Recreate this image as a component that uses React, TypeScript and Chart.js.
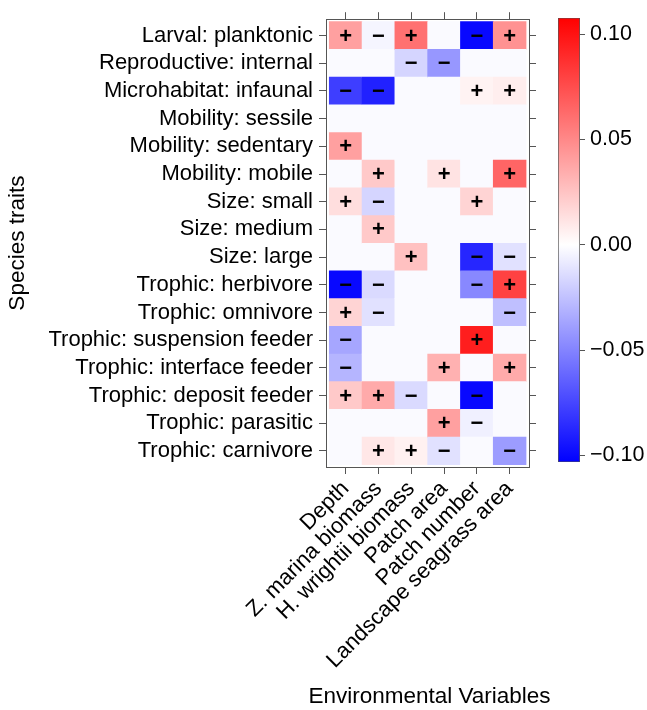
import React, { useEffect, useRef } from "react";
import { Chart, registerables } from "chart.js";

Chart.register(...registerables);

// ---------- data ----------
const environmentalVariables = [
  "Depth",
  "Z. marina biomass",
  "H. wrightii biomass",
  "Patch area",
  "Patch number",
  "Landscape seagrass area",
];

const speciesTraits = [
  "Larval: planktonic",
  "Reproductive: internal",
  "Microhabitat: infaunal",
  "Mobility: sessile",
  "Mobility: sedentary",
  "Mobility: mobile",
  "Size: small",
  "Size: medium",
  "Size: large",
  "Trophic: herbivore",
  "Trophic: omnivore",
  "Trophic: suspension feeder",
  "Trophic: interface feeder",
  "Trophic: deposit feeder",
  "Trophic: parasitic",
  "Trophic: carnivore",
];

// one value per species trait (top to bottom), 0 = not significant
const depth = [0.04, 0, -0.078, 0, 0.04, 0, 0.014, 0, 0, -0.1, 0.018, -0.036, -0.03, 0.023, 0, 0];
const zMarinaBiomass = [-0.004, 0, -0.09, 0, 0, 0.023, -0.017, 0.023, 0, -0.015, -0.012, 0, 0, 0.036, 0, 0.01];
const hWrightiiBiomass = [0.06, -0.017, 0, 0, 0, 0, 0, 0, 0.026, 0, 0, 0, 0, -0.015, 0, 0.006];
const patchArea = [0, -0.042, 0, 0, 0, 0.012, 0, 0, 0, 0, 0, 0, 0.033, 0, 0.04, -0.012];
const patchNumber = [-0.1, 0, 0.005, 0, 0, 0, 0.018, 0, -0.088, -0.048, 0, 0.095, 0, -0.1, -0.006, 0];
const landscapeSeagrassArea = [0.046, 0, 0.007, 0, 0, 0.065, 0, 0, -0.012, 0.08, -0.026, 0, 0.036, 0, 0, -0.04];

const colorbarMin = -0.1032;
const colorbarMax = 0.1077;
const colorbarTicks = [-0.1, -0.05, 0, 0.05, 0.1];

const xAxisTitle = "Environmental Variables";
const yAxisTitle = "Species traits";

// ---------- style ----------
const FONT = "'Liberation Sans', Arial, sans-serif";
const AXIS_COLOR = "#555";
const f = (size: number) => ({ family: FONT, size, weight: "normal" as const });

function cellColor(v: number): string {
  if (v === 0) return "rgb(250,250,255)";
  if (v > 0) {
    const t = Math.min(1, v / colorbarMax);
    const c = Math.round(255 * (1 - t));
    return `rgb(255,${c},${c})`;
  }
  const t = Math.min(1, -v / -colorbarMin);
  const c = Math.round(255 * (1 - t));
  return `rgb(${c},${c},255)`;
}

export default function App() {
  const heatRef = useRef<HTMLCanvasElement>(null);
  const barRef = useRef<HTMLCanvasElement>(null);

  useEffect(() => {
    Chart.defaults.font.family = FONT;
    Chart.defaults.color = "#000";

    const columns = [depth, zMarinaBiomass, hWrightiiBiomass, patchArea, patchNumber, landscapeSeagrassArea];
    const cells: { x: number; y: [number, number]; v: number }[] = [];
    columns.forEach((col, c) =>
      col.forEach((v, r) => cells.push({ x: c, y: [r - 0.5, r + 0.5], v }))
    );

    const colTicks = (s: any) => {
      s.ticks = environmentalVariables.map((_, i) => ({ value: i }));
    };
    const rowTicks = (s: any) => {
      s.ticks = speciesTraits.map((_, i) => ({ value: i }));
    };
    const tickGrid = { drawOnChartArea: false, drawTicks: true, tickLength: 7, color: AXIS_COLOR, offset: false };
    const border = { display: true, color: AXIS_COLOR, width: 1 };

    const signPlugin = {
      id: "signs",
      afterDatasetsDraw(chart: any) {
        const meta = chart.getDatasetMeta(0);
        const ctx = chart.ctx;
        ctx.save();
        ctx.fillStyle = "#000";
        ctx.textAlign = "center";
        ctx.textBaseline = "middle";
        meta.data.forEach((el: any, i: number) => {
          const v = cells[i].v;
          if (!v) return;
          const p = el.getProps(["x", "y", "base"], true);
          const cy = (p.y + p.base) / 2;
          ctx.font = `bold 22px ${FONT}`;
          ctx.fillText(v > 0 ? "+" : "\u2212", p.x, cy + 1);
        });
        ctx.restore();
      },
      afterDraw(chart: any) {
        // x-axis title drawn without Chart.js' maxWidth squeeze
        const ctx = chart.ctx;
        const area = chart.chartArea;
        ctx.save();
        ctx.fillStyle = "#000";
        ctx.font = `22.5px ${FONT}`;
        ctx.textAlign = "center";
        ctx.textBaseline = "middle";
        ctx.fillText(xAxisTitle, (area.left + area.right) / 2 + 2, 697);
        ctx.restore();
      },
    };

    const heat = new Chart(heatRef.current!, {
      type: "bar",
      data: {
        datasets: [
          {
            data: cells as any,
            xAxisID: "x",
            yAxisID: "y",
            backgroundColor: cells.map((c) => cellColor(c.v)),
            borderWidth: 0,
            barPercentage: 1,
            categoryPercentage: 1,
          } as any,
        ],
      },
      options: {
        animation: false,
        responsive: false,
        events: [],
        layout: { padding: 0 },
        plugins: { legend: { display: false }, tooltip: { enabled: false } },
        scales: {
          x: {
            type: "linear",
            position: "bottom",
            min: -0.6,
            max: 5.59,
            offset: false,
            afterBuildTicks: colTicks,
            afterFit: (s: any) => {
              s.height = 243;
            },
            ticks: {
              callback: (v: any) => environmentalVariables[v],
              minRotation: 45,
              maxRotation: 45,
              autoSkip: false,
              font: f(22),
              color: "#000",
              padding: 2,
            },
            grid: tickGrid,
            border,
          },
          x2: {
            type: "linear",
            position: "top",
            min: -0.6,
            max: 5.59,
            offset: false,
            afterBuildTicks: colTicks,
            afterFit: (s: any) => {
              s.height = 10;
            },
            ticks: { display: false },
            grid: tickGrid,
            border,
          },
          y: {
            type: "linear",
            position: "left",
            reverse: true,
            min: -0.59,
            max: 15.58,
            afterBuildTicks: rowTicks,
            afterFit: (s: any) => {
              s.width = 326;
            },
            ticks: {
              callback: (v: any) => speciesTraits[v],
              autoSkip: false,
              font: f(22),
              color: "#000",
              padding: 6,
            },
            grid: tickGrid,
            border,
            title: {
              display: true,
              text: yAxisTitle,
              font: f(22.5),
              color: "#000",
              padding: { top: 4, bottom: 0 },
            },
          },
          y2: {
            type: "linear",
            position: "right",
            reverse: true,
            min: -0.59,
            max: 15.58,
            afterBuildTicks: rowTicks,
            afterFit: (s: any) => {
              s.width = 118;
            },
            ticks: { display: false },
            grid: tickGrid,
            border,
          },
        },
      } as any,
      plugins: [signPlugin],
    });

    const bar = new Chart(barRef.current!, {
      type: "bar",
      data: {
        labels: ["scale"],
        datasets: [
          {
            data: [[colorbarMin, colorbarMax]] as any,
            backgroundColor: (context: any) => {
              const chart = context.chart;
              const ys = chart.scales.y;
              if (!chart.chartArea || !ys) return "#fff";
              const y0 = ys.getPixelForValue(colorbarMin);
              const y1 = ys.getPixelForValue(colorbarMax);
              const g = chart.ctx.createLinearGradient(0, y0, 0, y1);
              const zf = (0 - colorbarMin) / (colorbarMax - colorbarMin);
              g.addColorStop(0, "rgb(0,0,255)");
              g.addColorStop(zf, "rgb(255,255,255)");
              g.addColorStop(1, "rgb(255,0,0)");
              return g;
            },
            borderColor: AXIS_COLOR,
            borderWidth: 1,
            borderSkipped: false,
            barPercentage: 1,
            categoryPercentage: 1,
          } as any,
        ],
      },
      options: {
        animation: false,
        responsive: false,
        events: [],
        layout: { padding: { left: 18, top: 10, bottom: 13, right: 0 } },
        plugins: { legend: { display: false }, tooltip: { enabled: false } },
        scales: {
          x: { display: false },
          y: {
            position: "right",
            min: colorbarMin,
            max: colorbarMax,
            beginAtZero: false,
            afterBuildTicks: (s: any) => {
              s.ticks = colorbarTicks.map((v) => ({ value: v }));
            },
            afterFit: (s: any) => {
              s.width = 67;
            },
            ticks: {
              callback: (v: any) => (v < 0 ? "\u2212" : "") + Math.abs(v).toFixed(2),
              font: f(21.5),
              color: "#000",
              padding: 5,
            },
            grid: { drawOnChartArea: false, drawTicks: true, tickLength: 5, color: AXIS_COLOR },
            border: { display: false },
          },
        },
      } as any,
    });

    return () => {
      heat.destroy();
      bar.destroy();
    };
  }, []);

  return (
    <div
      style={{
        position: "absolute",
        left: 0,
        top: 0,
        width: 647,
        height: 710,
        overflow: "hidden",
        background: "#fff",
      }}
    >
      <canvas
        ref={heatRef}
        width={647}
        height={710}
        style={{ position: "absolute", left: 0, top: 0, display: "block" }}
      />
      <canvas
        ref={barRef}
        width={107}
        height={480}
        style={{ position: "absolute", left: 540, top: 0, display: "block" }}
      />
    </div>
  );
}
